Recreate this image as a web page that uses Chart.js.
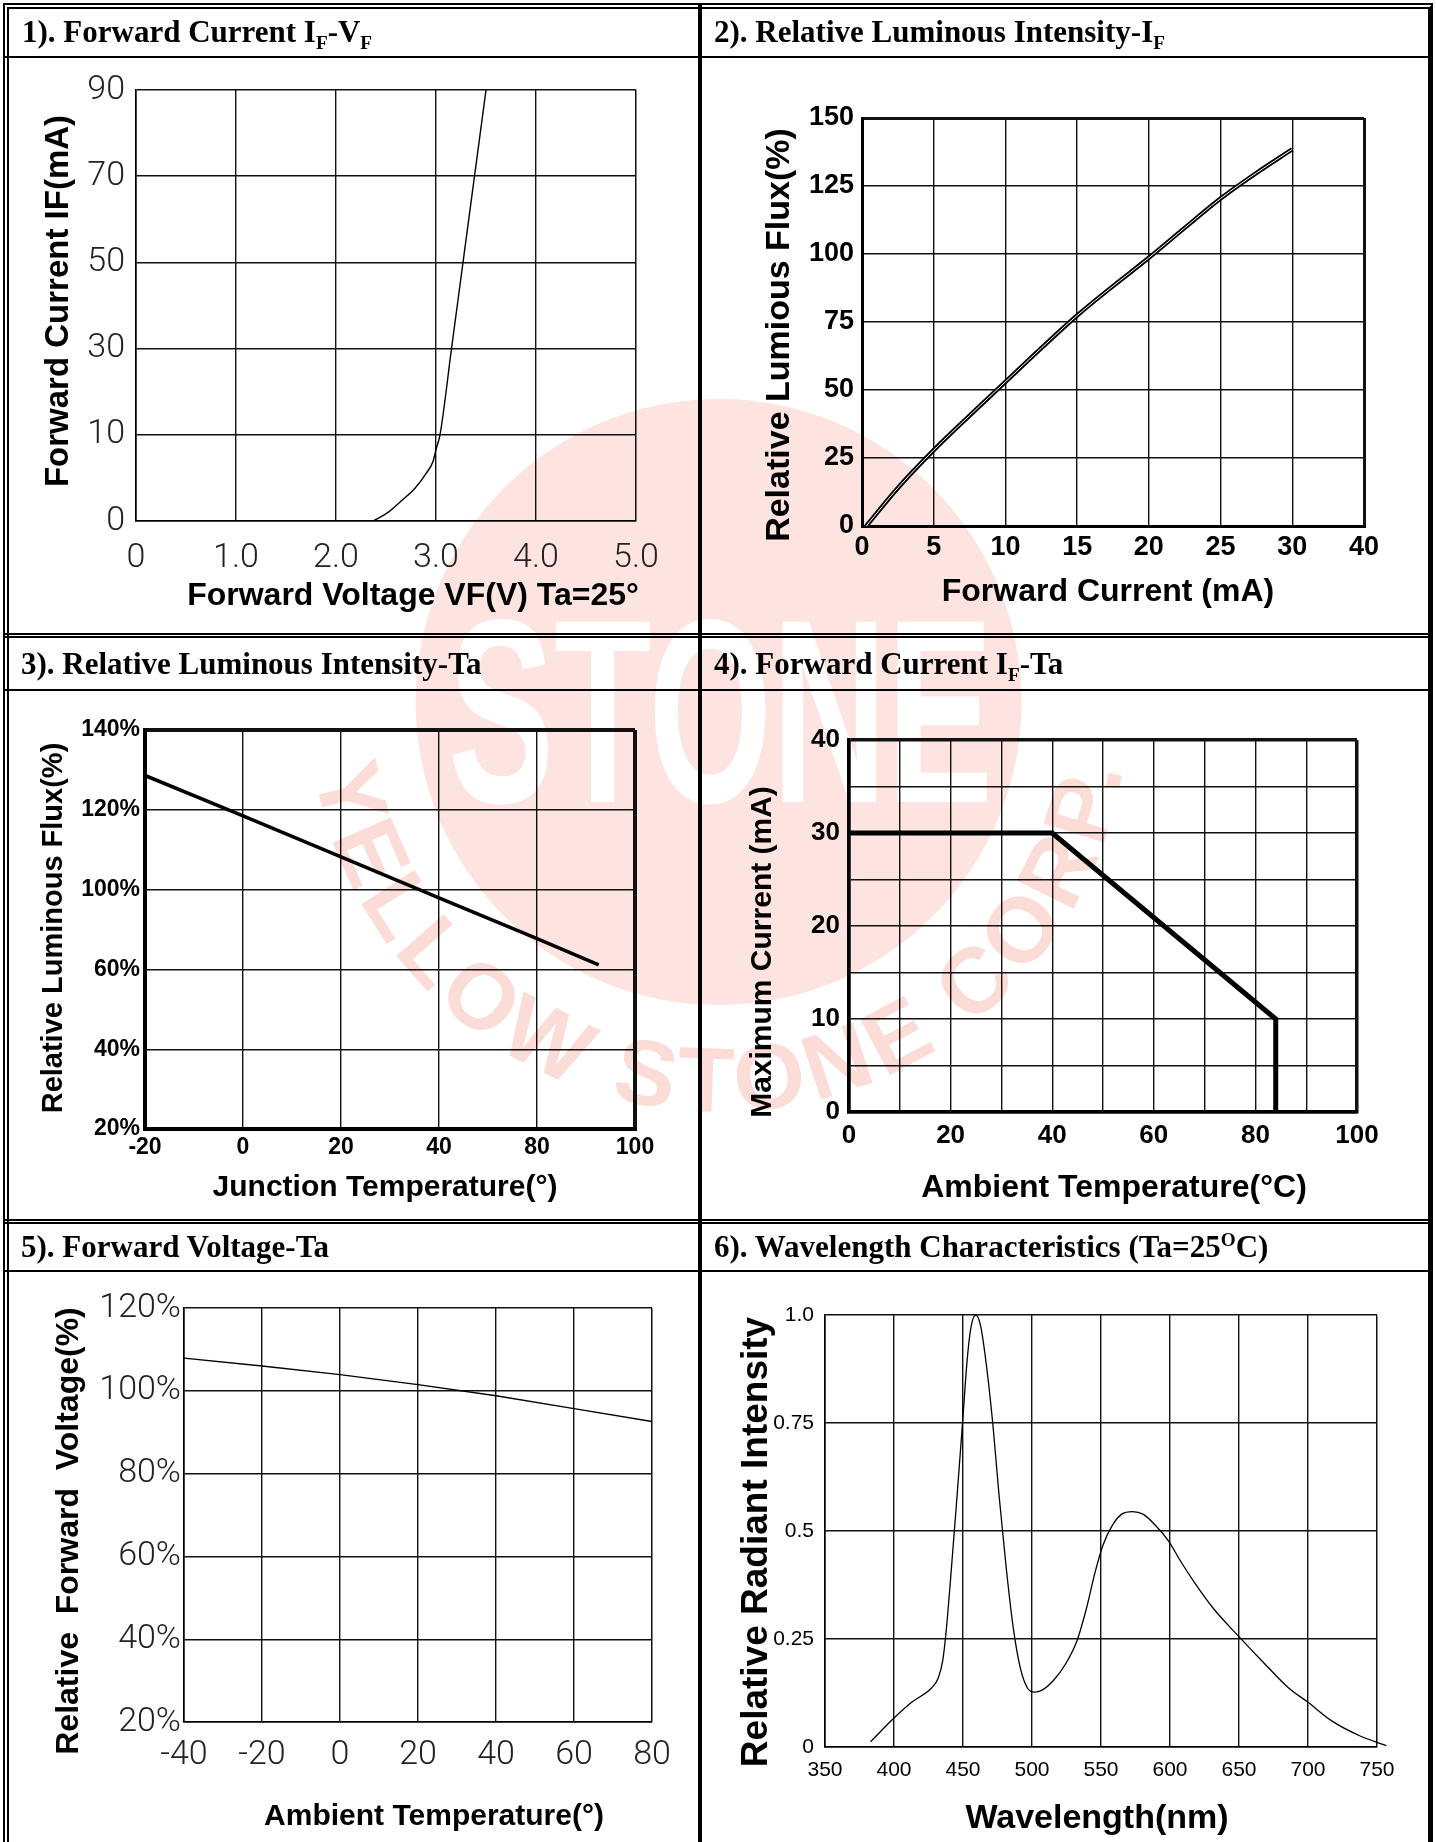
<!DOCTYPE html>
<html>
<head>
<meta charset="utf-8">
<script src="https://cdn.jsdelivr.net/npm/chart.js@4.4.1/dist/chart.umd.min.js"></script>
<style>
  html, body { margin: 0; padding: 0; background: #fff; }
  body { width: 1436px; height: 1842px; position: relative; overflow: hidden; }
  #wm { position: absolute; left: 0; top: 0; z-index: 0; }
  canvas { position: absolute; z-index: 1; }
  .frame { position: absolute; left: 3px; top: 3px; width: 1419px; height: 1860px; border-left: 6px double #000; border-top: 6px double #000; border-right: 5px solid #000; z-index: 2; }
  .rule { position: absolute; background: #000; z-index: 2; }
  .dbl { position: absolute; left: 3px; width: 1430px; height: 0; border-top: 5px double #000; z-index: 2; }
  .title { position: absolute; z-index: 2; font-family: 'Liberation Serif', 'Times New Roman', serif; font-weight: bold; font-size: 31px; white-space: nowrap; }
  .title sub, .title sup { font-size: 62%; line-height: 0; }
  .ax { position: absolute; z-index: 2; font-family: 'Liberation Sans', Arial, sans-serif; font-weight: bold; white-space: pre; line-height: 1; transform: translate(-50%, -50%); }
  .ax.v { transform: translate(-50%, -50%) rotate(-90deg); }
</style>
</head>
<body>
<svg id="wm" width="1436" height="1842">
  <circle cx="718.6" cy="702" r="303" fill="#fde4e0"/>
  <text x="448" y="802" font-family="Liberation Sans, Arial, sans-serif" font-weight="bold" font-size="262" fill="#fff" textLength="545" lengthAdjust="spacingAndGlyphs">STONE</text>
  <path id="arc" d="M 312.6 759 A 410 410 0 0 0 1127 737.7" fill="none"/>
  <text font-family="Liberation Sans, Arial, sans-serif" font-weight="bold" font-size="92" fill="#fcdcd6"><textPath href="#arc" startOffset="12" textLength="1150" lengthAdjust="spacing">YELLOW STONE CORP.</textPath></text>
</svg>

<div class="frame"></div>
<div class="rule" style="left:698px;top:3px;width:4px;height:1842px"></div>
<div class="dbl" style="top:633px"></div>
<div class="dbl" style="top:1219px"></div>
<div class="rule" style="left:3px;top:56px;width:1430px;height:2px"></div>
<div class="rule" style="left:3px;top:689px;width:1430px;height:2px"></div>
<div class="rule" style="left:3px;top:1270px;width:1430px;height:2px"></div>

<div class="title" style="left:22px;top:8px;line-height:48px">1). Forward Current I<sub>F</sub>-V<sub>F</sub></div>
<div class="title" style="left:714px;top:8px;line-height:48px">2). Relative Luminous Intensity-I<sub>F</sub></div>
<div class="title" style="left:21px;top:638px;line-height:51px">3). Relative Luminous Intensity-Ta</div>
<div class="title" style="left:714px;top:638px;line-height:51px">4). Forward Current I<sub>F</sub>-Ta</div>
<div class="title" style="left:21px;top:1224px;line-height:46px">5). Forward Voltage-Ta</div>
<div class="title" style="left:714px;top:1224px;line-height:46px">6). Wavelength Characteristics (Ta=25<sup>O</sup>C)</div>

<canvas id="c1"></canvas>
<canvas id="c2"></canvas>
<canvas id="c3"></canvas>
<canvas id="c4"></canvas>
<canvas id="c5"></canvas>
<canvas id="c6"></canvas>

<div class="ax v" style="left:56px;top:301px;font-size:33px">Forward Current IF(mA)</div>
<div class="ax" style="left:413px;top:594px;font-size:32px">Forward Voltage VF(V) Ta=25°</div>
<div class="ax v" style="left:777px;top:335px;font-size:34px">Relative Lumious Flux(%)</div>
<div class="ax" style="left:1108px;top:590px;font-size:32px">Forward Current (mA)</div>
<div class="ax v" style="left:52px;top:928px;font-size:29px">Relative Luminous Flux(%)</div>
<div class="ax" style="left:385px;top:1186px;font-size:30px">Junction Temperature(°)</div>
<div class="ax v" style="left:761px;top:952px;font-size:30px">Maximum Current (mA)</div>
<div class="ax" style="left:1114px;top:1186px;font-size:32px">Ambient Temperature(°C)</div>
<div class="ax v" style="left:67px;top:1531px;font-size:32px">Relative  Forward  Voltage(%)</div>
<div class="ax" style="left:434px;top:1815px;font-size:30px">Ambient Temperature(°)</div>
<div class="ax v" style="left:754px;top:1542px;font-size:37px">Relative Radiant Intensity</div>
<div class="ax" style="left:1097px;top:1816px;font-size:34px">Wavelength(nm)</div>

<script>
// 1) IF-VF : the current axis has equal steps labelled 0,10,30,50,70,90
const vfTicksY = [0, 10, 30, 50, 70, 90];
const vfVolt = [2.37, 2.52, 2.66, 2.79, 2.90, 2.97, 3.00, 3.04, 3.155, 3.27, 3.385, 3.50];
const vfCurrent = [0, 1.0, 2.4, 3.8, 5.5, 6.9, 8.3, 10, 30, 50, 70, 90];

// 2) relative flux vs IF : current axis labelled 0..30 then 40
const lumTicksX = [0, 5, 10, 15, 20, 25, 30, 40];
const lumCurrent = [0.3, 2.5, 5, 7.5, 10, 12.5, 15, 17.5, 20, 22.5, 25, 27.5, 30];
const lumFlux = [0, 14, 27.9, 40.6, 53.0, 65.4, 77.4, 88.2, 98.6, 109.6, 120.4, 129.8, 138.5];

// 3) relative flux vs junction temperature (both axes uneven)
const tjTicksX = [-20, 0, 20, 40, 80, 100];
const tjTicksY = [20, 40, 60, 100, 120, 140];
const tjTemp = [-20, 0, 20, 40, 80, 92.6];
const tjFlux = [128.6, 118.5, 108.2, 95.9, 75.4, 62.3];

// 4) derating
const drTemp = [0, 40, 84, 84];
const drCurrent = [30, 30, 10, 0];

// 5) forward voltage vs Ta
const fvTemp = [-40, -20, 0, 20, 40, 60, 80];
const fvVolt = [107.9, 106.0, 103.9, 101.5, 98.8, 95.7, 92.6];

// 6) spectrum
const wlNm = [383, 400, 413, 427, 432, 435.3, 437.7, 441.1, 445.6, 449.7, 453.1, 455.8, 459.2, 462.6, 466, 471.2,
  476.3, 481.4, 486.5, 491.6, 496.8, 501.9, 507, 515.5, 524.1, 532.6, 539.4, 545.6, 551.4, 558.2, 565, 572.9,
  580.4, 588.9, 599.1, 607.7, 617.9, 631.6, 648.6, 669.1, 686.2, 699.8, 716.9, 737.4, 756.8];
const wlInt = [0.012, 0.067, 0.104, 0.136, 0.159, 0.200, 0.265, 0.393, 0.577, 0.752, 0.899, 0.972, 1.0, 0.977, 0.908, 0.761,
  0.577, 0.412, 0.274, 0.182, 0.136, 0.127, 0.131, 0.154, 0.191, 0.246, 0.320, 0.403, 0.467, 0.513, 0.539, 0.545,
  0.539, 0.515, 0.476, 0.430, 0.380, 0.320, 0.260, 0.191, 0.136, 0.104, 0.061, 0.026, 0.003];

const THIN = "'Roboto', 'DejaVu Sans', sans-serif";
const ARIAL = "'Liberation Sans', Arial, sans-serif";

// position of a value on an axis whose labels sit at equal steps
function onAxis(v, ticks) {
  let i = 1;
  while (i < ticks.length - 1 && v > ticks[i]) i++;
  return i - 1 + (v - ticks[i - 1]) / (ticks[i] - ticks[i - 1]);
}
const pts = (xs, ys, fx, fy) => xs.map((x, i) => ({ x: fx ? fx(x) : x, y: fy ? fy(ys[i]) : ys[i] }));

function panel(id, area, plot, o) {
  const cv = document.getElementById(id);
  cv.style.left = area.left + 'px';
  cv.style.top = area.top + 'px';
  cv.width = area.width;
  cv.height = area.height;
  const frame = o.frame || 1.5;
  const scale = (s, axis) => {
    const n = Math.round((s.max - s.min) / s.step);
    return {
      type: 'linear', min: s.min, max: s.max,
      afterFit: axis === 'x'
        ? sc => { sc.height = area.top + area.height - plot.bottom; }
        : sc => { sc.width = plot.left - area.left; },
      border: { display: true, color: '#000', width: frame },
      grid: { color: '#111', drawTicks: false, lineWidth: c => (c.index === 0 || c.index === n) ? frame : 1.4 },
      ticks: { stepSize: s.step, autoSkip: false, maxRotation: 0, padding: s.pad, color: s.color || '#000', font: s.font, callback: s.label }
    };
  };
  return new Chart(cv, {
    type: 'line',
    data: { datasets: o.datasets },
    options: {
      responsive: false, animation: false, devicePixelRatio: 1,
      layout: { padding: { left: 0, bottom: 0, top: plot.top - area.top, right: area.left + area.width - plot.right } },
      plugins: { legend: { display: false }, tooltip: { enabled: false } },
      elements: { point: { radius: 0 } },
      scales: { x: scale(o.x, 'x'), y: scale(o.y, 'y') }
    }
  });
}

const thin = { family: THIN, weight: '300', size: 34 };

panel('c1', { left: 9, top: 58, width: 689, height: 575 }, { left: 136, top: 90, right: 636, bottom: 521 }, {
  x: { min: 0, max: 5, step: 1, pad: 17, font: thin, color: '#222', label: v => v === 0 ? '0' : v.toFixed(1) },
  y: { min: 0, max: 5, step: 1, pad: 11, font: thin, color: '#222', label: v => vfTicksY[Math.round(v)] },
  datasets: [{ data: pts(vfVolt, vfCurrent, null, v => onAxis(v, vfTicksY)), borderColor: '#000', borderWidth: 1.4, cubicInterpolationMode: 'monotone' }]
});

const bold27 = { family: ARIAL, weight: 'bold', size: 27 };
const lumData = pts(lumCurrent, lumFlux, v => onAxis(v, lumTicksX));
panel('c2', { left: 702, top: 58, width: 726, height: 575 }, { left: 862, top: 118, right: 1364, bottom: 526 }, {
  frame: 3,
  x: { min: 0, max: 7, step: 1, pad: 5, font: bold27, label: v => lumTicksX[Math.round(v)] },
  y: { min: 0, max: 150, step: 25, pad: 8, font: bold27, label: v => v },
  datasets: [
    { data: lumData, borderColor: '#fff', borderWidth: 1.0, cubicInterpolationMode: 'monotone', order: 0 },
    { data: lumData, borderColor: '#000', borderWidth: 4.4, cubicInterpolationMode: 'monotone', order: 1 }
  ]
});

const bold23 = { family: ARIAL, weight: 'bold', size: 23 };
panel('c3', { left: 9, top: 691, width: 689, height: 528 }, { left: 145, top: 730, right: 635, bottom: 1129 }, {
  frame: 4,
  x: { min: 0, max: 5, step: 1, pad: 5, font: bold23, label: v => tjTicksX[Math.round(v)] },
  y: { min: 0, max: 5, step: 1, pad: 5, font: bold23, label: v => tjTicksY[Math.round(v)] + '%' },
  datasets: [{ data: pts(tjTemp, tjFlux, v => onAxis(v, tjTicksX), v => onAxis(v, tjTicksY)), borderColor: '#000', borderWidth: 3.5 }]
});

const bold26 = { family: ARIAL, weight: 'bold', size: 26 };
panel('c4', { left: 702, top: 691, width: 726, height: 528 }, { left: 849, top: 740, right: 1357, bottom: 1112 }, {
  frame: 3.5,
  x: { min: 0, max: 100, step: 10, pad: 8, font: bold26, label: v => v % 20 === 0 ? v : '' },
  y: { min: 0, max: 40, step: 5, pad: 9, font: bold26, label: v => v % 10 === 0 ? v : '' },
  datasets: [{ data: pts(drTemp, drCurrent), borderColor: '#000', borderWidth: 5, borderJoinStyle: 'miter' }]
});

panel('c5', { left: 9, top: 1272, width: 689, height: 570 }, { left: 184, top: 1308, right: 652, bottom: 1722 }, {
  x: { min: -40, max: 80, step: 20, pad: 13, font: thin, color: '#222', label: v => v },
  y: { min: 20, max: 120, step: 20, pad: 3, font: thin, color: '#222', label: v => v + '%' },
  datasets: [{ data: pts(fvTemp, fvVolt), borderColor: '#000', borderWidth: 1.4 }]
});

const reg21 = { family: ARIAL, weight: 'normal', size: 21 };
panel('c6', { left: 702, top: 1272, width: 726, height: 570 }, { left: 825, top: 1315, right: 1377, bottom: 1747 }, {
  x: { min: 350, max: 750, step: 50, pad: 11, font: reg21, label: v => v },
  y: { min: 0, max: 1, step: 0.25, pad: 11, font: reg21, label: v => v === 0 ? '0' : v === 1 ? '1.0' : String(v) },
  datasets: [{ data: pts(wlNm, wlInt), borderColor: '#000', borderWidth: 1.3, cubicInterpolationMode: 'monotone', clip: false }]
});
</script>
</body>
</html>
